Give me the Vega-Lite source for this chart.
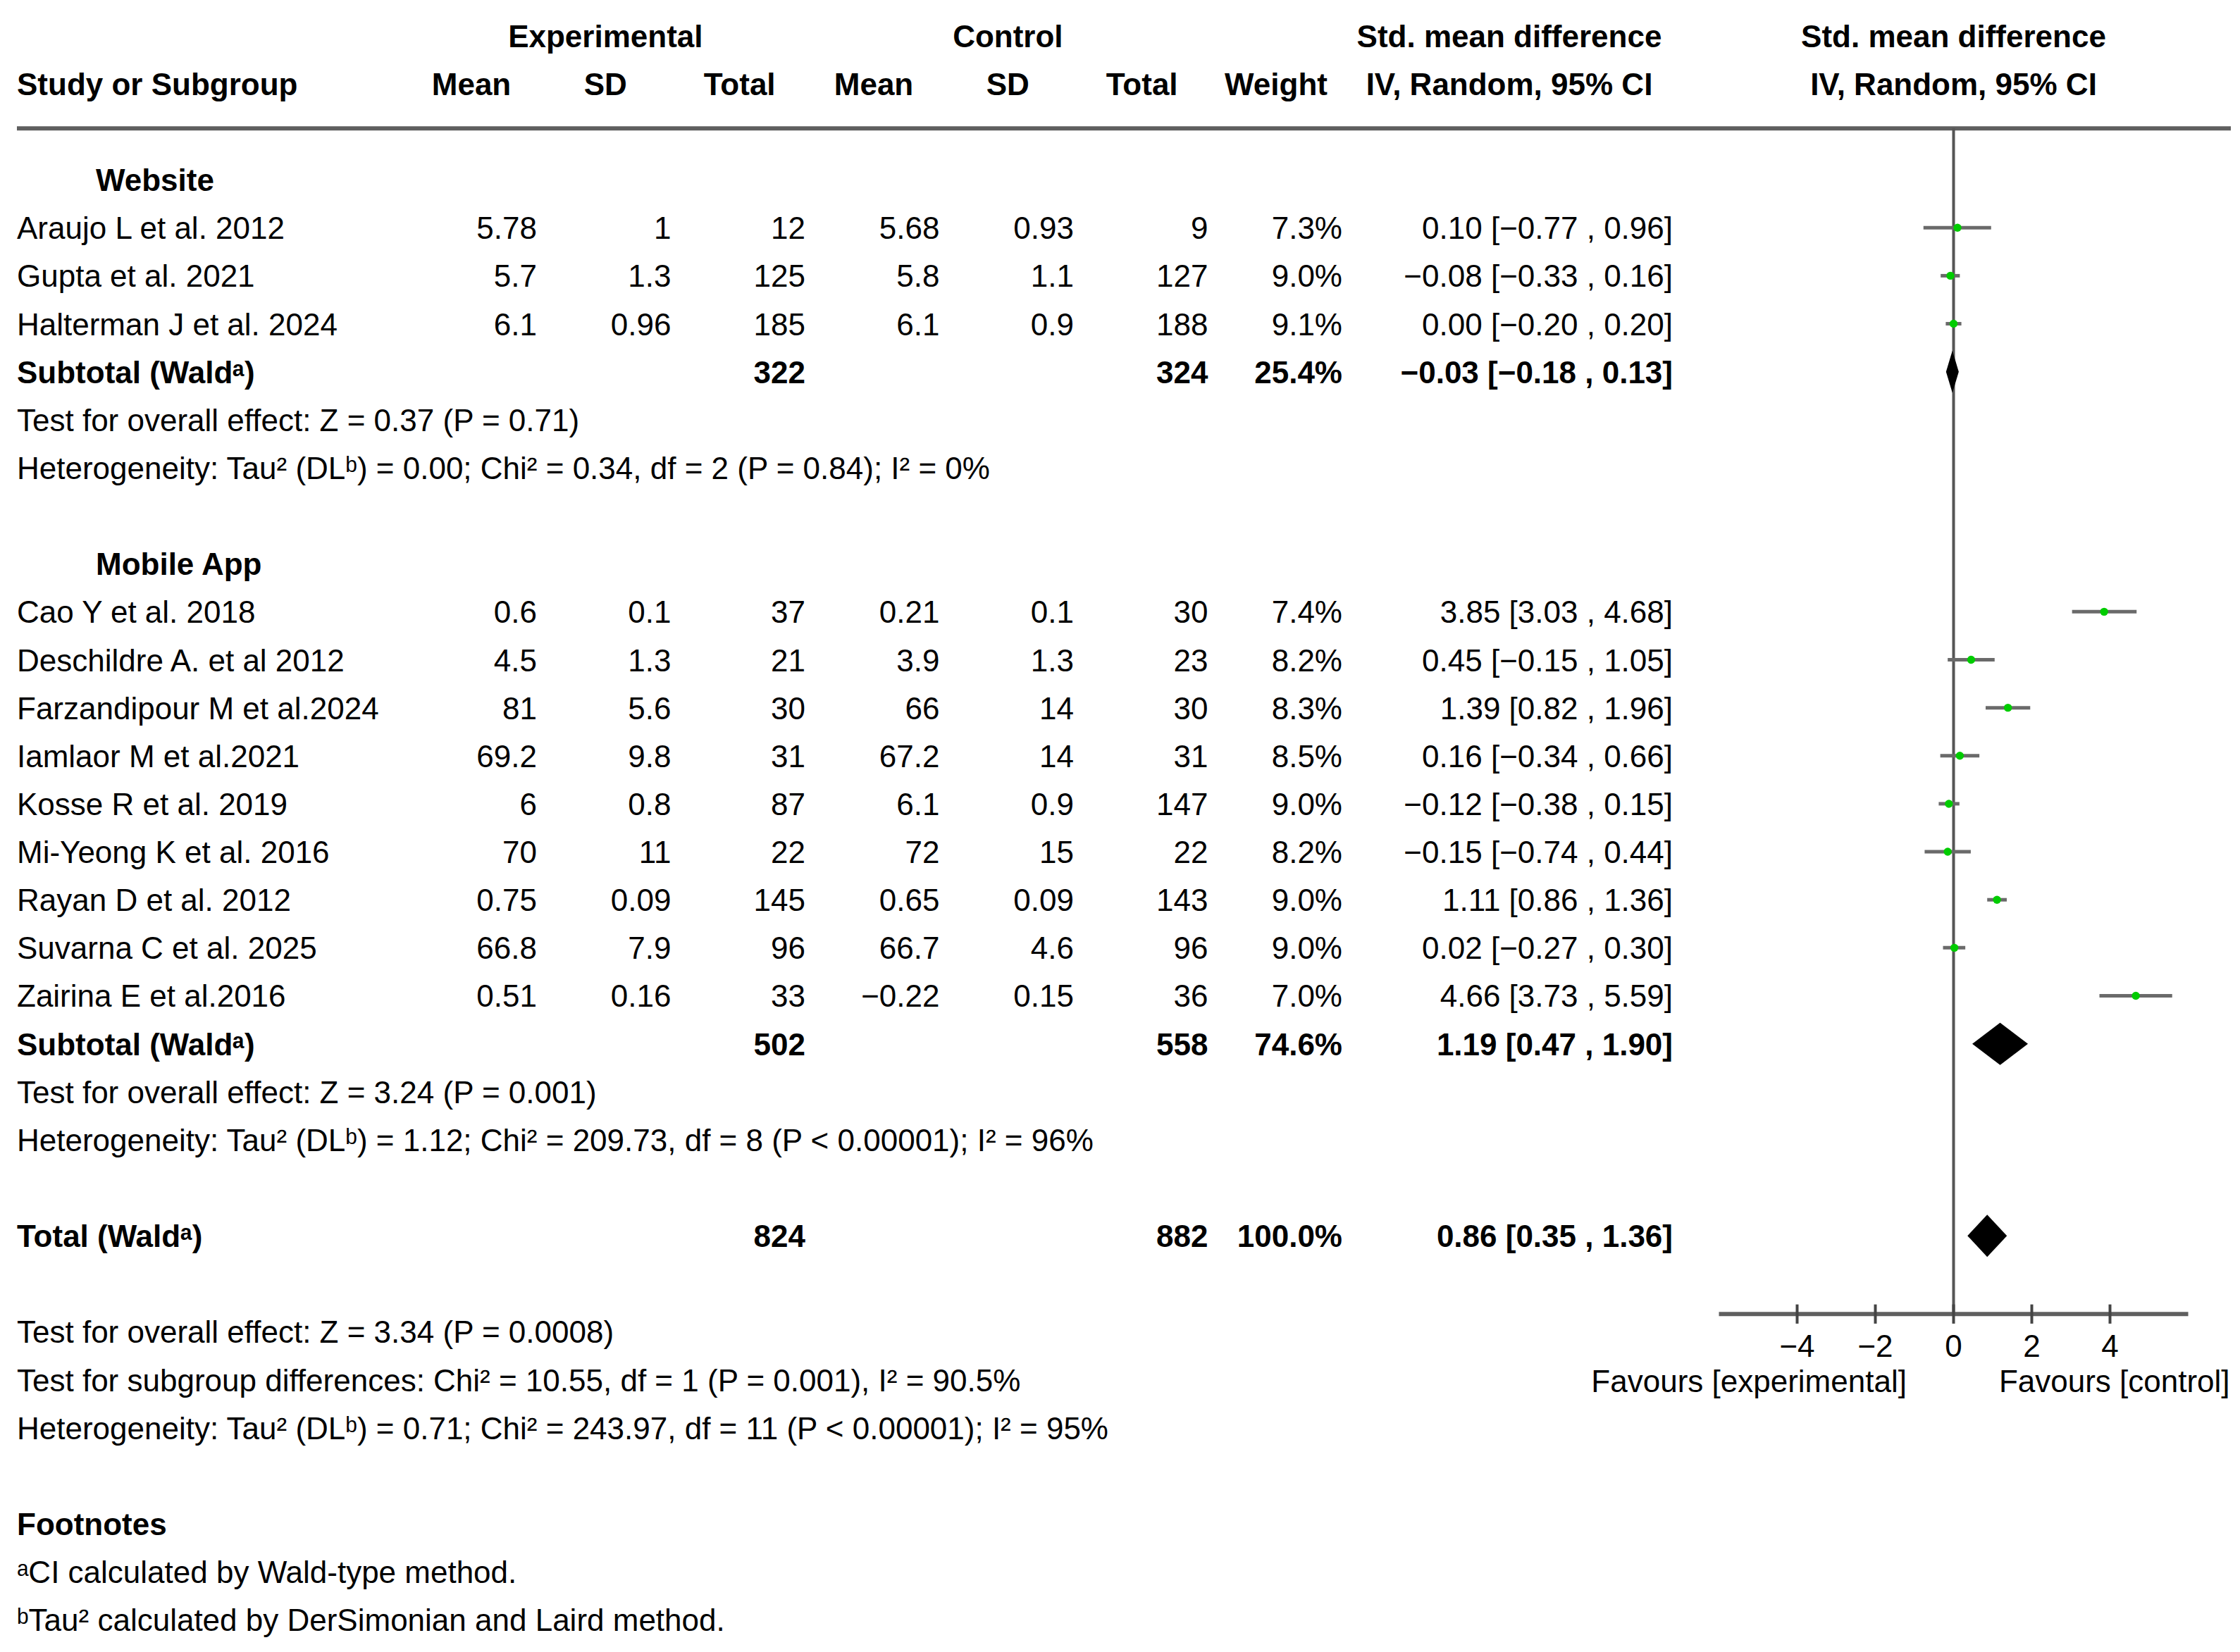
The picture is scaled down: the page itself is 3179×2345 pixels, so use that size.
{
  "$schema": "https://vega.github.io/schema/vega-lite/v6.json",
  "width": 3142,
  "height": 2345,
  "autosize": {"type": "none"},
  "padding": {"left": 24, "right": 13, "top": 0, "bottom": 0},
  "background": "white",
  "config": {
    "view": {"stroke": null},
    "text": {"font": "Liberation Sans, DejaVu Sans", "fontSize": 44, "color": "#000000", "baseline": "middle", "dy": 3}
  },
  "datasets": {
    "studies": [
      {"name": "Araujo L et al. 2012", "r": 4, "eMean": "5.78", "eSD": "1", "eN": "12", "cMean": "5.68", "cSD": "0.93", "cN": "9", "w": "7.3%", "ci": "0.10 [−0.77 , 0.96]", "smd": 0.10, "lo": -0.77, "hi": 0.96},
      {"name": "Gupta et al. 2021", "r": 5, "eMean": "5.7", "eSD": "1.3", "eN": "125", "cMean": "5.8", "cSD": "1.1", "cN": "127", "w": "9.0%", "ci": "−0.08 [−0.33 , 0.16]", "smd": -0.08, "lo": -0.33, "hi": 0.16},
      {"name": "Halterman J et al. 2024", "r": 6, "eMean": "6.1", "eSD": "0.96", "eN": "185", "cMean": "6.1", "cSD": "0.9", "cN": "188", "w": "9.1%", "ci": "0.00 [−0.20 , 0.20]", "smd": 0.00, "lo": -0.20, "hi": 0.20},
      {"name": "Cao Y et al. 2018", "r": 12, "eMean": "0.6", "eSD": "0.1", "eN": "37", "cMean": "0.21", "cSD": "0.1", "cN": "30", "w": "7.4%", "ci": "3.85 [3.03 , 4.68]", "smd": 3.85, "lo": 3.03, "hi": 4.68},
      {"name": "Deschildre A. et al 2012", "r": 13, "eMean": "4.5", "eSD": "1.3", "eN": "21", "cMean": "3.9", "cSD": "1.3", "cN": "23", "w": "8.2%", "ci": "0.45 [−0.15 , 1.05]", "smd": 0.45, "lo": -0.15, "hi": 1.05},
      {"name": "Farzandipour M et al.2024", "r": 14, "eMean": "81", "eSD": "5.6", "eN": "30", "cMean": "66", "cSD": "14", "cN": "30", "w": "8.3%", "ci": "1.39 [0.82 , 1.96]", "smd": 1.39, "lo": 0.82, "hi": 1.96},
      {"name": "Iamlaor M et al.2021", "r": 15, "eMean": "69.2", "eSD": "9.8", "eN": "31", "cMean": "67.2", "cSD": "14", "cN": "31", "w": "8.5%", "ci": "0.16 [−0.34 , 0.66]", "smd": 0.16, "lo": -0.34, "hi": 0.66},
      {"name": "Kosse R et al. 2019", "r": 16, "eMean": "6", "eSD": "0.8", "eN": "87", "cMean": "6.1", "cSD": "0.9", "cN": "147", "w": "9.0%", "ci": "−0.12 [−0.38 , 0.15]", "smd": -0.12, "lo": -0.38, "hi": 0.15},
      {"name": "Mi-Yeong K et al. 2016", "r": 17, "eMean": "70", "eSD": "11", "eN": "22", "cMean": "72", "cSD": "15", "cN": "22", "w": "8.2%", "ci": "−0.15 [−0.74 , 0.44]", "smd": -0.15, "lo": -0.74, "hi": 0.44},
      {"name": "Rayan D et al. 2012", "r": 18, "eMean": "0.75", "eSD": "0.09", "eN": "145", "cMean": "0.65", "cSD": "0.09", "cN": "143", "w": "9.0%", "ci": "1.11 [0.86 , 1.36]", "smd": 1.11, "lo": 0.86, "hi": 1.36},
      {"name": "Suvarna C et al. 2025", "r": 19, "eMean": "66.8", "eSD": "7.9", "eN": "96", "cMean": "66.7", "cSD": "4.6", "cN": "96", "w": "9.0%", "ci": "0.02 [−0.27 , 0.30]", "smd": 0.02, "lo": -0.27, "hi": 0.30},
      {"name": "Zairina E et al.2016", "r": 20, "eMean": "0.51", "eSD": "0.16", "eN": "33", "cMean": "−0.22", "cSD": "0.15", "cN": "36", "w": "7.0%", "ci": "4.66 [3.73 , 5.59]", "smd": 4.66, "lo": 3.73, "hi": 5.59}
    ],
    "pooled": [
      {"grp": "Website", "label": "Subtotal (Waldᵃ)", "r": 7, "eN": "322", "cN": "324", "w": "25.4%", "ci": "−0.03 [−0.18 , 0.13]", "smd": -0.03, "lo": -0.18, "hi": 0.13},
      {"grp": "Mobile App", "label": "Subtotal (Waldᵃ)", "r": 21, "eN": "502", "cN": "558", "w": "74.6%", "ci": "1.19 [0.47 , 1.90]", "smd": 1.19, "lo": 0.47, "hi": 1.90},
      {"grp": "Total", "label": "Total (Waldᵃ)", "r": 25, "eN": "824", "cN": "882", "w": "100.0%", "ci": "0.86 [0.35 , 1.36]", "smd": 0.86, "lo": 0.35, "hi": 1.36}
    ],
    "notes": [
      {"r": 8, "t": "Test for overall effect: Z = 0.37 (P = 0.71)"},
      {"r": 9, "t": "Heterogeneity: Tau² (DLᵇ) = 0.00; Chi² = 0.34, df = 2 (P = 0.84); I² = 0%"},
      {"r": 22, "t": "Test for overall effect: Z = 3.24 (P = 0.001)"},
      {"r": 23, "t": "Heterogeneity: Tau² (DLᵇ) = 1.12; Chi² = 209.73, df = 8 (P < 0.00001); I² = 96%"},
      {"r": 27, "t": "Test for overall effect: Z = 3.34 (P = 0.0008)"},
      {"r": 28, "t": "Test for subgroup differences: Chi² = 10.55, df = 1 (P = 0.001), I² = 90.5%"},
      {"r": 29, "t": "Heterogeneity: Tau² (DLᵇ) = 0.71; Chi² = 243.97, df = 11 (P < 0.00001); I² = 95%"},
      {"r": 32, "t": "ᵃCI calculated by Wald-type method."},
      {"r": 33, "t": "ᵇTau² calculated by DerSimonian and Laird method."}
    ],
    "labels": [
      {"r": 1, "col": "study", "t": "Study or Subgroup"},
      {"r": 3, "col": "group", "t": "Website"},
      {"r": 11, "col": "group", "t": "Mobile App"},
      {"r": 31, "col": "study", "t": "Footnotes"}
    ],
    "headers": [
      {"r": 0, "col": "eSD", "t": "Experimental"},
      {"r": 0, "col": "cSD", "t": "Control"},
      {"r": 0, "col": "ci", "t": "Std. mean difference"},
      {"r": 0, "col": "plot", "t": "Std. mean difference"},
      {"r": 1, "col": "eMean", "t": "Mean"},
      {"r": 1, "col": "eSD", "t": "SD"},
      {"r": 1, "col": "eN", "t": "Total"},
      {"r": 1, "col": "cMean", "t": "Mean"},
      {"r": 1, "col": "cSD", "t": "SD"},
      {"r": 1, "col": "cN", "t": "Total"},
      {"r": 1, "col": "w", "t": "Weight"},
      {"r": 1, "col": "ci", "t": "IV, Random, 95% CI"},
      {"r": 1, "col": "plot", "t": "IV, Random, 95% CI"}
    ],
    "ticks": [
      {"v": -4, "label": "−4"},
      {"v": -2, "label": "−2"},
      {"v": 0, "label": "0"},
      {"v": 2, "label": "2"},
      {"v": 4, "label": "4"}
    ],
    "favours": [
      {"side": "exp", "t": "Favours [experimental]"},
      {"side": "ctl", "t": "Favours [control]"}
    ]
  },
  "resolve": {"scale": {"x": "independent"}},
  "layer": [
    {
      "layer": [
        {
          "data": {"name": "studies"},
          "mark": {"type": "text", "align": "left"},
          "encoding": {
            "x": {"datum": "study", "type": "nominal", "scale": {"type": "point", "domain": ["study", "group"], "range": [0, 112], "padding": 0}, "axis": null},
            "y": {"field": "r", "type": "quantitative", "scale": {"domain": [0, 33], "range": [50.7, 2299.3], "nice": false, "zero": false}, "axis": null},
            "text": {"field": "name"}
          }
        },
        {
          "data": {"name": "notes"},
          "mark": {"type": "text", "align": "left"},
          "encoding": {
            "x": {"datum": "study", "type": "nominal", "scale": {"type": "point", "domain": ["study", "group"], "range": [0, 112], "padding": 0}, "axis": null},
            "y": {"field": "r", "type": "quantitative", "scale": {"domain": [0, 33], "range": [50.7, 2299.3], "nice": false, "zero": false}, "axis": null},
            "text": {"field": "t"}
          }
        },
        {
          "data": {"name": "pooled"},
          "mark": {"type": "text", "align": "left", "fontWeight": "bold"},
          "encoding": {
            "x": {"datum": "study", "type": "nominal", "scale": {"type": "point", "domain": ["study", "group"], "range": [0, 112], "padding": 0}, "axis": null},
            "y": {"field": "r", "type": "quantitative", "scale": {"domain": [0, 33], "range": [50.7, 2299.3], "nice": false, "zero": false}, "axis": null},
            "text": {"field": "label"}
          }
        },
        {
          "data": {"name": "labels"},
          "mark": {"type": "text", "align": "left", "fontWeight": "bold"},
          "encoding": {
            "x": {"field": "col", "type": "nominal", "scale": {"type": "point", "domain": ["study", "group"], "range": [0, 112], "padding": 0}, "axis": null},
            "y": {"field": "r", "type": "quantitative", "scale": {"domain": [0, 33], "range": [50.7, 2299.3], "nice": false, "zero": false}, "axis": null},
            "text": {"field": "t"}
          }
        }
      ]
    },
    {
      "layer": [
        {
          "data": {"name": "studies"},
          "transform": [{"fold": ["eMean", "eSD", "eN", "cMean", "cSD", "cN", "w"], "as": ["col", "val"]}],
          "mark": {"type": "text", "align": "right"},
          "encoding": {
            "x": {"field": "col", "type": "nominal", "scale": {"type": "point", "domain": ["eMean", "eSD", "eN", "cMean", "cSD", "cN", "w"], "range": [738, 1881], "padding": 0}, "axis": null},
            "y": {"field": "r", "type": "quantitative", "scale": {"domain": [0, 33], "range": [50.7, 2299.3], "nice": false, "zero": false}, "axis": null},
            "text": {"field": "val"}
          }
        },
        {
          "data": {"name": "pooled"},
          "transform": [{"fold": ["eN", "cN", "w"], "as": ["col", "val"]}],
          "mark": {"type": "text", "align": "right", "fontWeight": "bold"},
          "encoding": {
            "x": {"field": "col", "type": "nominal", "scale": {"type": "point", "domain": ["eMean", "eSD", "eN", "cMean", "cSD", "cN", "w"], "range": [738, 1881], "padding": 0}, "axis": null},
            "y": {"field": "r", "type": "quantitative", "scale": {"domain": [0, 33], "range": [50.7, 2299.3], "nice": false, "zero": false}, "axis": null},
            "text": {"field": "val"}
          }
        }
      ]
    },
    {
      "layer": [
        {
          "data": {"name": "headers"},
          "transform": [{"filter": "datum.col != 'ci' && datum.col != 'plot'"}],
          "mark": {"type": "text", "align": "center", "fontWeight": "bold"},
          "encoding": {
            "x": {"field": "col", "type": "nominal", "scale": {"type": "point", "domain": ["eMean", "eSD", "eN", "cMean", "cSD", "cN", "w"], "range": [645, 1787], "padding": 0}, "axis": null},
            "y": {"field": "r", "type": "quantitative", "scale": {"domain": [0, 33], "range": [50.7, 2299.3], "nice": false, "zero": false}, "axis": null},
            "text": {"field": "t"}
          }
        }
      ]
    },
    {
      "layer": [
        {
          "data": {"name": "headers"},
          "transform": [{"filter": "datum.col == 'ci'"}],
          "mark": {"type": "text", "align": "center", "fontWeight": "bold"},
          "encoding": {
            "x": {"field": "col", "type": "nominal", "scale": {"type": "point", "domain": ["ci", "ciVal"], "range": [2118, 2350], "padding": 0}, "axis": null},
            "y": {"field": "r", "type": "quantitative", "scale": {"domain": [0, 33], "range": [50.7, 2299.3], "nice": false, "zero": false}, "axis": null},
            "text": {"field": "t"}
          }
        },
        {
          "data": {"name": "studies"},
          "mark": {"type": "text", "align": "right"},
          "encoding": {
            "x": {"datum": "ciVal", "type": "nominal", "scale": {"type": "point", "domain": ["ci", "ciVal"], "range": [2118, 2350], "padding": 0}, "axis": null},
            "y": {"field": "r", "type": "quantitative", "scale": {"domain": [0, 33], "range": [50.7, 2299.3], "nice": false, "zero": false}, "axis": null},
            "text": {"field": "ci"}
          }
        },
        {
          "data": {"name": "pooled"},
          "mark": {"type": "text", "align": "right", "fontWeight": "bold"},
          "encoding": {
            "x": {"datum": "ciVal", "type": "nominal", "scale": {"type": "point", "domain": ["ci", "ciVal"], "range": [2118, 2350], "padding": 0}, "axis": null},
            "y": {"field": "r", "type": "quantitative", "scale": {"domain": [0, 33], "range": [50.7, 2299.3], "nice": false, "zero": false}, "axis": null},
            "text": {"field": "ci"}
          }
        }
      ]
    },
    {
      "layer": [
        {
          "data": {"values": [{}]},
          "mark": {"type": "rule", "strokeWidth": 6, "color": "#5f5f5f"},
          "encoding": {
            "y": {"datum": 1.93, "type": "quantitative", "scale": {"domain": [0, 33], "range": [50.7, 2299.3], "nice": false, "zero": false}, "axis": null}
          }
        },
        {
          "data": {"values": [{}]},
          "mark": {"type": "rule", "strokeWidth": 4, "color": "#555555"},
          "encoding": {
            "x": {"datum": 0, "type": "quantitative", "scale": {"domain": [-6, 6], "range": [2415.5, 3081.5], "nice": false, "zero": false}, "axis": null},
            "y": {"datum": 1.93, "type": "quantitative", "axis": null},
            "y2": {"datum": 26.63}
          }
        },
        {
          "data": {"values": [{}]},
          "mark": {"type": "rule", "strokeWidth": 6, "color": "#5f5f5f"},
          "encoding": {
            "x": {"datum": -6, "type": "quantitative", "axis": null},
            "x2": {"datum": 6},
            "y": {"datum": 26.63, "type": "quantitative", "axis": null}
          }
        },
        {
          "data": {"name": "ticks"},
          "mark": {"type": "rule", "strokeWidth": 4, "color": "#444444"},
          "encoding": {
            "x": {"field": "v", "type": "quantitative", "axis": null},
            "y": {"datum": 26.43, "type": "quantitative", "axis": null},
            "y2": {"datum": 26.83}
          }
        },
        {
          "data": {"name": "ticks"},
          "mark": {"type": "text", "align": "center"},
          "encoding": {
            "x": {"field": "v", "type": "quantitative", "axis": null},
            "y": {"datum": 27.29, "type": "quantitative", "axis": null},
            "text": {"field": "label"}
          }
        },
        {
          "data": {"name": "favours"},
          "transform": [{"filter": "datum.side == 'exp'"}],
          "mark": {"type": "text", "align": "right"},
          "encoding": {
            "x": {"datum": -1.2, "type": "quantitative", "axis": null},
            "y": {"datum": 28.02, "type": "quantitative", "axis": null},
            "text": {"field": "t"}
          }
        },
        {
          "data": {"name": "favours"},
          "transform": [{"filter": "datum.side == 'ctl'"}],
          "mark": {"type": "text", "align": "left"},
          "encoding": {
            "x": {"datum": 1.16, "type": "quantitative", "axis": null},
            "y": {"datum": 28.02, "type": "quantitative", "axis": null},
            "text": {"field": "t"}
          }
        },
        {
          "data": {"name": "studies"},
          "mark": {"type": "rule", "strokeWidth": 5, "color": "#6a6a6a"},
          "encoding": {
            "x": {"field": "lo", "type": "quantitative", "axis": null},
            "x2": {"field": "hi"},
            "y": {"field": "r", "type": "quantitative", "axis": null}
          }
        },
        {
          "data": {"name": "studies"},
          "mark": {"type": "point", "filled": true, "shape": "circle", "size": 130, "color": "#00cc00", "opacity": 1},
          "encoding": {
            "x": {"field": "smd", "type": "quantitative", "axis": null},
            "y": {"field": "r", "type": "quantitative", "axis": null}
          }
        },
        {
          "data": {"name": "pooled"},
          "mark": {"type": "point", "filled": true, "size": 4, "color": "#000000", "opacity": 1},
          "encoding": {
            "x": {"field": "smd", "type": "quantitative", "axis": null},
            "y": {"field": "r", "type": "quantitative", "axis": null},
            "shape": {
              "field": "grp",
              "type": "nominal",
              "scale": {
                "domain": ["Website", "Mobile App", "Total"],
                "range": ["M-9,0L0,-30L9,0L0,30Z", "M-39.5,0L0,-30L39.5,0L0,30Z", "M-28,0L0,-30L28,0L0,30Z"]
              },
              "legend": null
            }
          }
        },
        {
          "data": {"name": "headers"},
          "transform": [{"filter": "datum.col == 'plot'"}],
          "mark": {"type": "text", "align": "center", "fontWeight": "bold"},
          "encoding": {
            "x": {"datum": 0, "type": "quantitative", "axis": null},
            "y": {"field": "r", "type": "quantitative", "axis": null},
            "text": {"field": "t"}
          }
        }
      ]
    }
  ]
}
